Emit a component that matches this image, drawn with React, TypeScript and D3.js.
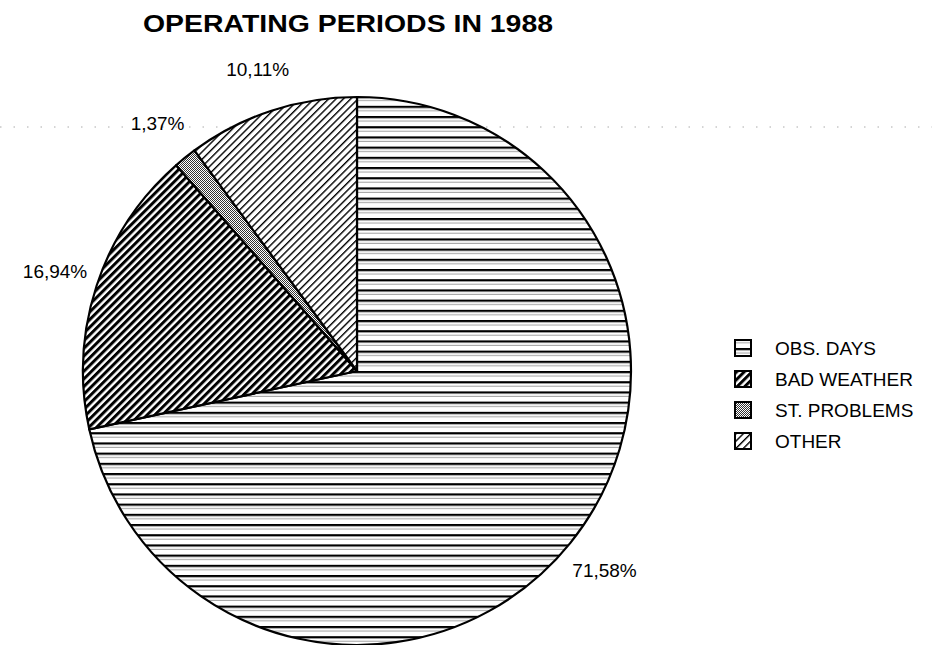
import React from "react";
import * as d3 from "d3";

// data
const categories = ["OBS. DAYS", "BAD WEATHER", "ST. PROBLEMS", "OTHER"];
const values = [71.58, 16.94, 1.37, 10.11];
const valueLabels = ["71,58%", "16,94%", "1,37%", "10,11%"];
const patternIds = ["hLines", "darkDiag", "dots", "lightDiag"];

const title = "OPERATING PERIODS IN 1988";

export default function App() {
  const width = 932;
  const height = 645;
  const cx = 357;
  const cy = 371;
  const radius = 274;

  const pie = d3
    .pie<number>()
    .sort(null)
    .value((d) => d);
  const arcs = pie(values);
  const arcGen = d3.arc<d3.PieArcDatum<number>>().innerRadius(0).outerRadius(radius);
  // labels sit outside the rim, on each slice's mid-angle
  const labelArc = d3
    .arc<d3.PieArcDatum<number>>()
    .innerRadius(radius * 1.16)
    .outerRadius(radius * 1.16);

  const legendY = d3.scalePoint<string>().domain(categories).range([348, 441]);

  const font = "'Liberation Sans', Arial, Helvetica, sans-serif";

  return (
    <svg
      width={width}
      height={height}
      style={{ position: "absolute", left: 0, top: 0, background: "#fff" }}
    >
      <defs>
        <pattern id="hLines" patternUnits="userSpaceOnUse" width={10} height={10.2}>
          <rect width={10} height={10.2} fill="#fff" />
          <rect y={0} width={10} height={2.2} fill="#000" />
          <rect y={4.5} width={10} height={0.8} fill="#888" />
        </pattern>
        <pattern
          id="darkDiag"
          patternUnits="userSpaceOnUse"
          width={5.4}
          height={5.4}
          patternTransform="rotate(45)"
        >
          <rect width={5.4} height={5.4} fill="#fff" />
          <rect x={0} width={3} height={5.4} fill="#000" />
        </pattern>
        <pattern
          id="lightDiag"
          patternUnits="userSpaceOnUse"
          width={5.2}
          height={5.2}
          patternTransform="rotate(45)"
        >
          <rect width={5.2} height={5.2} fill="#fff" />
          <rect x={0} width={1.4} height={5.2} fill="#000" />
        </pattern>
        <pattern id="dots" patternUnits="userSpaceOnUse" width={2} height={2}>
          <rect width={2} height={2} fill="#fff" />
          <rect x={0} y={0} width={1} height={1} fill="#333" />
          <rect x={1} y={1} width={1} height={1} fill="#333" />
        </pattern>
      </defs>

      {/* faint dotted scan line */}
      <line
        x1={0}
        x2={width}
        y1={127}
        y2={127}
        stroke="#aaa"
        strokeWidth={1}
        strokeDasharray="1.5 12"
      />

      <text
        x={143}
        y={32}
        fontFamily={font}
        fontWeight="bold"
        fontSize={24}
        textLength={410}
        lengthAdjust="spacingAndGlyphs"
        fill="#000"
      >
        {title}
      </text>

      <g transform={`translate(${cx},${cy})`}>
        {arcs.map((a, i) => (
          <path
            key={categories[i]}
            d={arcGen(a) || ""}
            fill={`url(#${patternIds[i]})`}
            stroke="#000"
            strokeWidth={2.2}
            strokeLinejoin="round"
          />
        ))}
        {arcs.map((a, i) => {
          const [lx, ly] = labelArc.centroid(a);
          return (
            <text
              key={valueLabels[i]}
              x={lx}
              y={ly}
              textAnchor="middle"
              dominantBaseline="central"
              fontFamily={font}
              fontSize={19}
              fill="#000"
            >
              {valueLabels[i]}
            </text>
          );
        })}
      </g>

      <g>
        {categories.map((c, i) => {
          const y = legendY(c) as number;
          return (
            <g key={c} transform={`translate(735,${y})`}>
              <rect
                x={0}
                y={-8}
                width={16}
                height={16}
                fill={`url(#${patternIds[i]})`}
                stroke="#000"
                strokeWidth={2}
              />
              <text
                x={40}
                y={0}
                dominantBaseline="central"
                fontFamily={font}
                fontSize={19}
                fill="#000"
              >
                {c}
              </text>
            </g>
          );
        })}
      </g>
    </svg>
  );
}
